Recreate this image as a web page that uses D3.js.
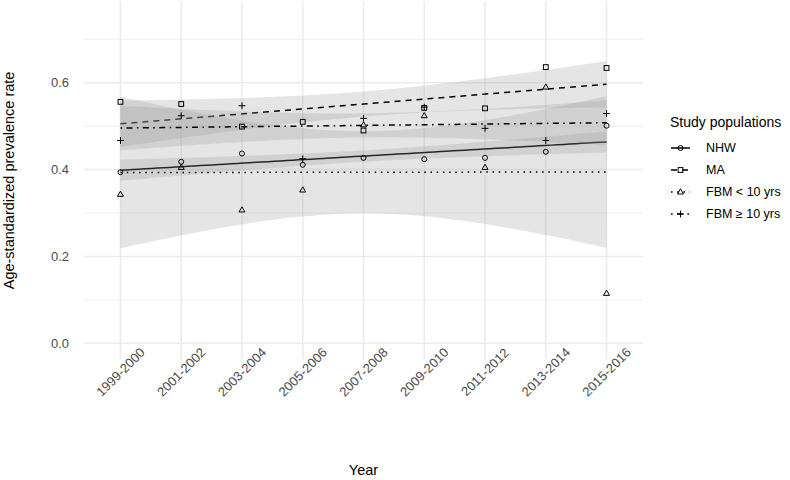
<!DOCTYPE html>
<html>
<head>
<meta charset="utf-8">
<script src="https://cdn.jsdelivr.net/npm/d3@7"></script>
<style>
  body { margin: 0; background: #fff; }
  svg { font-family: "Liberation Sans", Arial, sans-serif; }
</style>
</head>
<body>
<div id="chart"></div>
<script>
const categories = ["1999-2000", "2001-2002", "2003-2004", "2005-2006", "2007-2008",
  "2009-2010", "2011-2012", "2013-2014", "2015-2016"];

const nhw = [0.394, 0.418, 0.437, 0.411, 0.427, 0.424, 0.427, 0.441, 0.501];
const ma = [0.556, 0.551, 0.499, 0.510, 0.490, 0.542, 0.541, 0.636, 0.634];
const fbmUnder10 = [0.343, 0.405, 0.307, 0.353, 0.503, 0.524, 0.405, 0.590, 0.115];
const fbmOver10 = [0.467, 0.524, 0.547, 0.425, 0.518, 0.544, 0.495, 0.467, 0.529];

const seriesNames = ["NHW", "MA", "FBM < 10 yrs", "FBM \u2265 10 yrs"];
const yTicks = [0, 0.2, 0.4, 0.6];
const yMinorTicks = [0.1, 0.3, 0.5, 0.7];

const W = 790, H = 480;
const panel = { left: 84, right: 643, top: 1.3, bottom: 359.6 };
const tCrit = 1.895; // t(0.95, df = 7) -> 90% band

const series = [
  { name: seriesNames[0], values: nhw, dash: null, shape: "circle" },
  { name: seriesNames[1], values: ma, dash: "6,5", shape: "square" },
  { name: seriesNames[2], values: fbmUnder10, dash: "1.6,4.6", shape: "triangle" },
  { name: seriesNames[3], values: fbmOver10, dash: "1.6,4.4,6,4.4", shape: "plus" }
];

const svg = d3.select("#chart").append("svg")
  .attr("width", W).attr("height", H);

const x = d3.scalePoint().domain(categories)
  .range([panel.left, panel.right]).padding(0.6);
const xIdx = d3.scaleLinear().domain([0, categories.length - 1])
  .range([x(categories[0]), x(categories[categories.length - 1])]);
const y = d3.scaleLinear().domain([-0.0375, 0.7875])
  .range([panel.bottom, panel.top]);

// grid
const grid = svg.append("g");
grid.selectAll(".minor").data(yMinorTicks).enter().append("line")
  .attr("x1", panel.left).attr("x2", panel.right)
  .attr("y1", d => y(d)).attr("y2", d => y(d))
  .attr("stroke", "#ebebeb").attr("stroke-width", 0.8);
grid.selectAll(".major").data(yTicks).enter().append("line")
  .attr("x1", panel.left).attr("x2", panel.right)
  .attr("y1", d => y(d)).attr("y2", d => y(d))
  .attr("stroke", "#ebebeb").attr("stroke-width", 1.5);
grid.selectAll(".vmajor").data(categories).enter().append("line")
  .attr("x1", d => x(d)).attr("x2", d => x(d))
  .attr("y1", panel.top).attr("y2", panel.bottom)
  .attr("stroke", "#ebebeb").attr("stroke-width", 1.5);

// linear fit with confidence band
function fit(values) {
  const n = values.length;
  const xs = values.map((_, i) => i);
  const mx = d3.mean(xs), my = d3.mean(values);
  const sxx = d3.sum(xs, v => (v - mx) * (v - mx));
  const sxy = d3.sum(xs, (v, i) => (v - mx) * (values[i] - my));
  const b = sxy / sxx, a = my - b * mx;
  const rss = d3.sum(xs, (v, i) => Math.pow(values[i] - (a + b * v), 2));
  const s = Math.sqrt(rss / (n - 2));
  const pts = d3.range(0, 80).map(k => {
    const xv = (n - 1) * k / 79;
    const yv = a + b * xv;
    const se = s * Math.sqrt(1 / n + (xv - mx) * (xv - mx) / sxx);
    return { x: xv, y: yv, lo: yv - tCrit * se, hi: yv + tCrit * se };
  });
  return pts;
}

const area = d3.area().x(d => xIdx(d.x)).y0(d => y(d.lo)).y1(d => y(d.hi));
const line = d3.line().x(d => xIdx(d.x)).y(d => y(d.y));

const smooth = svg.append("g");
series.forEach(s => {
  const pts = fit(s.values);
  smooth.append("path").attr("d", area(pts))
    .attr("fill", "#999999").attr("fill-opacity", 0.25);
  smooth.append("path").attr("d", line(pts))
    .attr("fill", "none").attr("stroke", "#000")
    .attr("stroke-width", 1.5)
    .attr("stroke-dasharray", s.dash);
});

function drawShape(g, shape, cx, cy) {
  const st = { stroke: "#000", "stroke-width": 1, fill: "none" };
  let el;
  if (shape === "circle") {
    el = g.append("circle").attr("cx", cx).attr("cy", cy).attr("r", 2.5);
  } else if (shape === "square") {
    el = g.append("rect").attr("x", cx - 2.4).attr("y", cy - 2.4)
      .attr("width", 4.8).attr("height", 4.8);
  } else if (shape === "triangle") {
    el = g.append("path")
      .attr("d", `M${cx},${cy - 3.2}L${cx + 3},${cy + 2}L${cx - 3},${cy + 2}Z`);
  } else {
    el = g.append("path")
      .attr("d", `M${cx - 3.4},${cy}H${cx + 3.4}M${cx},${cy - 3.4}V${cy + 3.4}`);
  }
  Object.entries(st).forEach(([k, v]) => el.attr(k, v));
}

const pointsG = svg.append("g");
series.forEach(s => {
  s.values.forEach((v, i) => drawShape(pointsG, s.shape, x(categories[i]), y(v)));
});

// y axis labels
svg.append("g").selectAll("text").data(yTicks).enter().append("text")
  .attr("x", 69).attr("y", d => y(d)).attr("dy", "0.35em")
  .attr("text-anchor", "end").attr("font-size", 13).attr("fill", "#4d4d4d")
  .text(d => d3.format(".1f")(d));

// x axis labels (rotated 45deg, centred on tick)
svg.append("g").selectAll("text").data(categories).enter().append("text")
  .attr("transform", d => `translate(${x(d)},${372}) rotate(-45)`)
  .attr("text-anchor", "middle").attr("dy", "0.35em")
  .attr("font-size", 13).attr("fill", "#4d4d4d")
  .text(d => d);

// axis titles
svg.append("text")
  .attr("x", (panel.left + panel.right) / 2).attr("y", 475)
  .attr("text-anchor", "middle").attr("font-size", 14.5).attr("fill", "#000")
  .text("Year");
svg.append("text")
  .attr("transform", `translate(14,${(panel.top + panel.bottom) / 2}) rotate(-90)`)
  .attr("text-anchor", "middle").attr("font-size", 14.5).attr("fill", "#000")
  .text("Age-standardized prevalence rate");

// legend
const legend = svg.append("g");
legend.append("text").attr("x", 670).attr("y", 127)
  .attr("font-size", 14).attr("fill", "#000").text("Study populations");
series.forEach((s, i) => {
  const cy = 148 + i * 22;
  legend.append("line").attr("x1", 671).attr("x2", 690)
    .attr("y1", cy).attr("y2", cy)
    .attr("stroke", "#000").attr("stroke-width", 1.5)
    .attr("stroke-dasharray", s.dash);
  drawShape(legend, s.shape, 680.5, cy);
  legend.append("text").attr("x", 706).attr("y", cy).attr("dy", "0.35em")
    .attr("font-size", 12.5).attr("fill", "#000").text(s.name);
});
</script>
</body>
</html>
